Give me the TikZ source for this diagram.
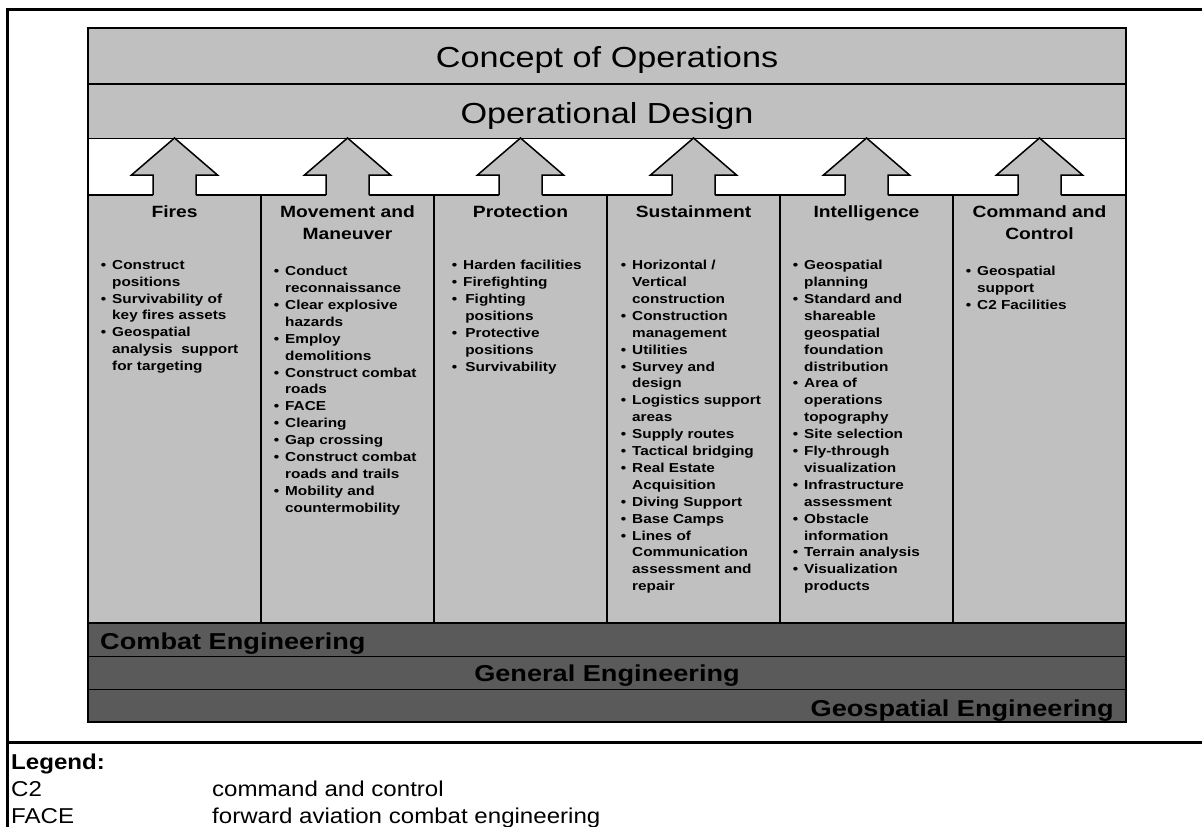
\documentclass[tikz,border=0pt]{standalone}
\usepackage{fontspec}
\setmainfont{Liberation Sans}[FakeStretch=1.18]
\newfontfamily\legendfont{Liberation Sans}[FakeStretch=1.12]
\definecolor{lightfill}{HTML}{C0C0C0}
\definecolor{darkfill}{HTML}{5A5A5A}
\newcommand{\bl}{\llap{\textbullet\hspace{6pt}}}

\begin{document}
\begin{tikzpicture}[x = 1pt, y = -1pt,
    frameline/.style = {line width = 3pt},
    boxline/.style = {line width = 1.5pt},
    bandtext/.style = {anchor = base, inner sep = 0pt, font = \fontsize{29}{34}\selectfont},
    engtext/.style = {anchor = base, inner sep = 0pt, font = \bfseries\fontsize{23}{28}\selectfont},
    coltitle/.style = {anchor = north, inner sep = 0pt, align = center, font = \bfseries\fontsize{16.3}{22}\selectfont},
    itemlist/.style = {anchor = north west, inner sep = 0pt, align = left, font = \bfseries\fontsize{13}{16.9}\selectfont},
    legendtext/.style = {anchor = base west, inner sep = 0pt, font = \legendfont\fontsize{21.5}{26}\selectfont}]
    \useasboundingbox (0,0) rectangle (1202,827);
    \draw[frameline] (1202,9) -- (7,9) -- (7,827);
    \draw[frameline] (7,742) -- (1202,742);

    \fill[lightfill] (88,28) rectangle (1126,138);
    \draw[boxline] (88,84) -- (1126,84);
    \draw[line width = 1pt] (88,138) -- (1126,138);
    \fill[lightfill] (88,195) rectangle (1126,623);
    \draw[boxline] (88,195) -- (1126,195);
    \foreach \c in {174.5,347.5,520.5,693.5,866.5,1039.5} {
        \fill[lightfill] (\c-21.5,197) -- (\c-21.5,175) -- (\c-43,175) -- (\c,138)
            -- (\c+43,175) -- (\c+21.5,175) -- (\c+21.5,197) -- cycle;
        \draw[boxline, line join = miter] (\c-21.5,195) -- (\c-21.5,175) -- (\c-43,175) -- (\c,138)
            -- (\c+43,175) -- (\c+21.5,175) -- (\c+21.5,195);
    }
    \foreach \x in {261,434,607,780,953}
        \draw[line width = 2.5pt] (\x,195) -- (\x,623);
    \fill[darkfill] (88,623) rectangle (1126,722);
    \draw[boxline] (88,623) -- (1126,623);
    \draw[line width = 1pt] (88,656) -- (1126,656) (88,689) -- (1126,689);
    \draw[line width = 2pt] (88,28) rectangle (1126,722);

    \node[bandtext] (concept) at (607,67) {Concept of Operations};
    \node[bandtext] (design) at (607,123) {Operational Design};

    \node[coltitle] (firesTitle) at (174.5,205) {Fires};
    \node[coltitle] (moveTitle) at (347.5,205) {Movement and\\Maneuver};
    \node[coltitle] (protTitle) at (520.5,205) {Protection};
    \node[coltitle] (sustTitle) at (693.5,205) {Sustainment};
    \node[coltitle] (intelTitle) at (866.5,205) {Intelligence};
    \node[coltitle] (ccTitle) at (1039.5,205) {Command and\\Control};

    \node[itemlist] (firesList) at (112,260) {\bl Construct\\positions\\\bl Survivability of\\key fires assets\\\bl Geospatial\\analysis\ \ support\\for targeting};
    \node[itemlist] (moveList) at (285,266) {\bl Conduct\\reconnaissance\\\bl Clear explosive\\hazards\\\bl Employ\\demolitions\\\bl Construct combat\\roads\\\bl FACE\\\bl Clearing\\\bl Gap crossing\\\bl Construct combat\\roads and trails\\\bl Mobility and\\countermobility};
    \node[itemlist] (protList) at (463,260) {\bl Harden facilities\\\bl Firefighting\\\bl \,Fighting\\\,positions\\\bl \,Protective\\\,positions\\\bl \,Survivability};
    \node[itemlist] (sustList) at (632,260) {\bl Horizontal /\\Vertical\\construction\\\bl Construction\\management\\\bl Utilities\\\bl Survey and\\design\\\bl Logistics support\\areas\\\bl Supply routes\\\bl Tactical bridging\\\bl Real Estate\\Acquisition\\\bl Diving Support\\\bl Base Camps\\\bl Lines of\\Communication\\assessment and\\repair};
    \node[itemlist] (intelList) at (804,260) {\bl Geospatial\\planning\\\bl Standard and\\shareable\\geospatial\\foundation\\distribution\\\bl Area of\\operations\\topography\\\bl Site selection\\\bl Fly-through\\visualization\\\bl Infrastructure\\assessment\\\bl Obstacle\\information\\\bl Terrain analysis\\\bl Visualization\\products};
    \node[itemlist] (ccList) at (977,266) {\bl Geospatial\\support\\\bl C2 Facilities};

    \node[engtext, anchor = base west] (combat) at (100,649) {Combat Engineering};
    \node[engtext] (general) at (607,681) {General Engineering};
    \node[engtext, anchor = base east] (geo) at (1114,716) {Geospatial Engineering};

    \node[legendtext, font = \legendfont\bfseries\fontsize{21.5}{26}\selectfont] (legend) at (11,769) {Legend:};
    \node[legendtext] (cTwo) at (11,796) {C2};
    \node[legendtext] (cTwoText) at (212,796) {command and control};
    \node[legendtext] (face) at (11,823) {FACE};
    \node[legendtext] (faceText) at (212,823) {forward aviation combat engineering};
\end{tikzpicture}
\end{document}
